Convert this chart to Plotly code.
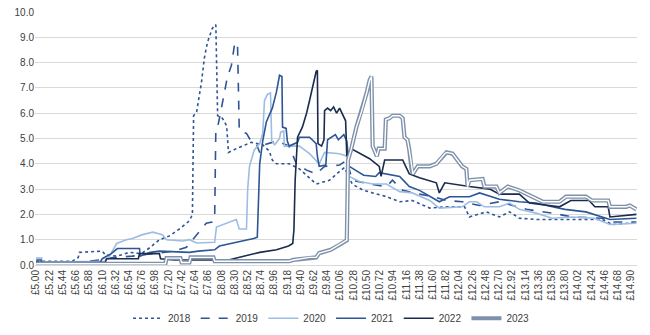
import plotly.graph_objects as go

# ---- data (hourly wage in £, value) ----
w18 = [5.00,5.60,5.70,5.72,6.10,6.15,6.35,6.55,6.75,6.90,7.05,7.22,7.40,7.55,7.60,7.62,7.67,7.75,7.80,7.85,7.93,7.99,8.02,8.10,8.17,8.18,8.20,8.33,8.50,8.58,8.77,8.88,8.93,9.00,9.21,9.38,9.66,9.88,10.05,10.13,10.26,10.43,10.60,10.83,11.05,11.26,11.55,11.83,12.13,12.21,12.49,12.71,12.88,13.04,13.32,13.80,14.42,14.59,14.99]
v18 = [0.15,0.15,0.3,0.5,0.55,0.4,0.35,0.5,0.45,0.7,1.0,1.15,1.45,1.75,2.0,5.9,6.05,7.2,8.2,8.8,9.35,9.5,5.9,5.8,5.5,5.0,4.45,4.6,4.75,4.85,4.75,4.5,4.15,4.0,4.0,3.8,3.2,3.35,3.7,3.85,3.2,2.97,2.85,2.7,2.5,2.55,2.25,2.3,2.3,1.9,2.1,1.9,2.1,1.85,1.8,1.8,1.8,1.6,1.68]

w19 = [5.00,5.70,6.05,6.30,6.60,6.95,7.30,7.50,7.64,7.75,7.83,7.93,7.97,7.99,8.02,8.05,8.10,8.13,8.18,8.25,8.30,8.35,8.38,8.50,8.60,8.67,8.72,8.80,9.00,9.21,9.33,9.50,9.66,9.80,10.05,10.17,10.26,10.55,10.83,10.93,11.10,11.38,11.60,11.83,12.09,12.38,12.71,13.16,13.59,13.92,14.42,14.59,14.99]
v19 = [0.1,0.1,0.2,0.3,0.35,0.45,0.55,0.7,1.1,1.38,1.65,1.7,1.78,5.4,5.45,5.8,6.45,6.85,7.4,7.9,8.7,8.8,5.3,5.2,4.8,4.75,4.45,4.75,4.9,4.7,4.0,3.75,3.6,3.9,3.95,4.15,3.35,3.2,3.1,3.35,2.95,2.8,2.7,2.55,2.5,2.35,2.5,2.2,2.05,1.9,1.85,1.7,1.7]

w20 = [5.00,5.09,5.10,6.14,6.22,6.34,6.50,6.60,6.77,6.94,7.10,7.17,7.44,7.55,7.67,7.97,8.00,8.17,8.33,8.38,8.50,8.52,8.55,8.63,8.72,8.77,8.80,8.85,8.90,8.92,8.97,9.05,9.07,9.12,9.13,9.38,9.55,9.71,9.80,10.05,10.17,10.21,10.38,10.60,10.83,11.05,11.26,11.55,11.71,12.09,12.21,12.33,12.46,12.71,12.88,13.04,13.32,13.59,13.92,14.29,14.55,14.99]
v20 = [0.27,0.27,0.12,0.15,0.35,0.85,1.0,1.05,1.2,1.3,1.2,1.0,0.95,1.0,0.87,0.9,1.5,1.65,1.8,1.42,1.42,3.0,3.9,4.55,4.8,5.2,6.5,6.75,6.8,4.9,4.75,5.0,5.25,5.3,4.7,4.7,4.4,4.0,4.45,4.4,4.3,3.5,3.3,3.2,3.2,2.9,2.85,2.55,2.25,2.3,2.5,2.5,2.3,2.3,2.45,2.2,2.05,1.85,1.9,1.85,1.6,1.65]

w21 = [5.00,5.08,5.10,6.05,6.10,6.25,6.35,6.72,6.73,6.90,7.05,7.55,7.70,7.97,8.05,8.25,8.40,8.62,8.68,8.70,8.72,8.77,8.83,8.93,9.00,9.05,9.09,9.10,9.16,9.18,9.21,9.35,9.38,9.55,9.66,9.68,9.71,9.82,9.85,9.98,10.03,10.12,10.17,10.21,10.45,10.65,10.71,11.05,11.21,11.38,11.71,11.88,12.21,12.38,12.71,13.04,13.32,13.59,13.80,14.15,14.55,14.99]
v21 = [0.2,0.2,0.05,0.05,0.25,0.45,0.65,0.65,0.35,0.5,0.55,0.5,0.55,0.6,0.75,0.85,0.95,1.05,1.1,2.9,4.0,4.9,5.65,6.2,6.85,7.5,7.45,5.45,5.4,4.9,4.7,4.85,5.05,5.05,4.8,4.3,3.9,3.95,4.95,5.15,4.95,5.15,4.9,3.9,3.55,3.5,3.65,3.5,3.1,2.95,2.5,2.7,2.7,2.85,2.6,2.5,2.45,2.3,2.2,2.1,1.8,1.85]

w22 = [5.00,6.15,6.17,6.70,6.72,7.05,7.07,7.30,8.20,8.45,8.72,9.00,9.20,9.27,9.29,9.31,9.33,9.35,9.43,9.50,9.55,9.60,9.66,9.68,9.69,9.75,9.79,9.80,9.85,9.90,9.95,10.00,10.05,10.15,10.17,10.24,10.40,10.55,10.71,10.74,10.80,11.10,11.15,11.21,11.38,11.66,11.71,11.80,12.21,12.55,12.71,13.04,13.21,13.71,13.90,14.20,14.30,14.52,14.55,14.99]
v22 = [0.1,0.1,0.25,0.25,0.45,0.45,0.25,0.2,0.2,0.35,0.5,0.6,0.75,0.85,1.4,3.35,4.55,5.05,5.45,6.0,6.5,7.05,7.65,7.7,4.8,4.7,4.95,6.1,6.2,6.1,6.25,6.0,6.2,5.7,4.3,4.6,4.4,4.2,3.9,3.5,4.15,4.15,3.9,3.6,3.45,3.25,2.85,3.25,3.1,3.0,2.8,2.8,2.45,2.3,2.55,2.55,2.3,2.3,1.9,2.0]

w23 = [5.00,7.15,7.17,7.40,7.42,7.55,7.57,7.95,7.97,9.21,9.28,9.55,9.66,9.71,9.90,10.05,10.17,10.19,10.24,10.33,10.42,10.50,10.55,10.58,10.60,10.67,10.70,10.80,10.82,10.88,10.93,11.05,11.10,11.13,11.18,11.21,11.25,11.27,11.35,11.55,11.66,11.71,11.80,11.83,11.93,12.01,12.09,12.16,12.18,12.21,12.43,12.46,12.66,12.71,12.85,13.04,13.21,13.43,13.71,13.82,14.15,14.25,14.52,14.55,14.82,14.88,14.99]
v23 = [0.05,0.05,0.27,0.27,0.1,0.1,0.3,0.3,0.15,0.15,0.2,0.3,0.3,0.47,0.6,0.8,0.98,4.15,4.55,5.45,6.1,6.8,7.3,7.45,4.7,4.3,4.6,4.6,5.75,5.8,5.9,5.9,5.8,5.05,4.95,4.55,3.75,3.6,3.9,3.9,4.0,4.15,4.4,4.45,4.4,4.15,3.9,3.8,3.1,3.35,3.4,3.1,3.1,2.85,3.1,2.95,2.75,2.5,2.5,2.7,2.7,2.55,2.55,2.3,2.3,2.35,2.2]

# x tick labels
tick_vals = [round(5.00 + 0.22 * k, 2) for k in range(46)]
tick_text = ["£%.2f" % t for t in tick_vals]
y_ticks = [0, 1, 2, 3, 4, 5, 6, 7, 8, 9, 10]

years = ["2018", "2019", "2020", "2021", "2022", "2023"]
series_w = [w18, w19, w20, w21, w22, w23]
series_v = [v18, v19, v20, v21, v22, v23]
for a, b in zip(series_w, series_v):
    assert len(a) == len(b), (len(a), len(b))

styles = {
    "2018": dict(color="#2F5597", width=1.6, dash="dot"),
    "2019": dict(color="#2F5597", width=1.6, dash="dash"),
    "2020": dict(color="#9DBDE3", width=1.6),
    "2021": dict(color="#2E5596", width=1.6),
    "2022": dict(color="#1B2B4D", width=1.6),
    "2023": dict(color="#7F91AA", width=4.2),
}

fig = go.Figure()
for yr, xs, ys in zip(years, series_w, series_v):
    fig.add_trace(go.Scatter(x=xs, y=ys, mode="lines", name=yr,
                             line=styles[yr], legendgroup=yr))
    if yr == "2023":
        fig.add_trace(go.Scatter(x=xs, y=ys, mode="lines", name=yr,
                                 line=dict(color="white", width=1.4),
                                 legendgroup=yr, showlegend=False,
                                 hoverinfo="skip"))

font_fam = "Liberation Sans, Arial, sans-serif"
fig.update_layout(
    width=650, height=335,
    margin=dict(l=35, r=13, t=12, b=70, autoexpand=False),
    paper_bgcolor="white", plot_bgcolor="white",
    font=dict(family=font_fam, size=10, color="#404040"),
    showlegend=True,
    legend=dict(orientation="h", xref="container", yref="container",
                x=0.51, xanchor="center", y=0.05, yanchor="middle",
                font=dict(size=10, color="#404040"),
                bgcolor="rgba(0,0,0,0)"),
)
fig.update_xaxes(range=[4.98, 15.0], tickmode="array", tickvals=tick_vals,
                 ticktext=tick_text, tickangle=-90, showgrid=False,
                 zeroline=False, showline=True, linecolor="#D9D9D9",
                 ticks="", automargin=False,
                 tickfont=dict(size=10, color="#404040"))
fig.update_yaxes(range=[0, 10], tickmode="array", tickvals=y_ticks,
                 tickformat=".1f", showgrid=True, gridcolor="#D9D9D9",
                 gridwidth=1, zeroline=False, showline=False, ticks="",
                 automargin=False,
                 tickfont=dict(size=10, color="#404040"))

fig.write_html("out.html")
